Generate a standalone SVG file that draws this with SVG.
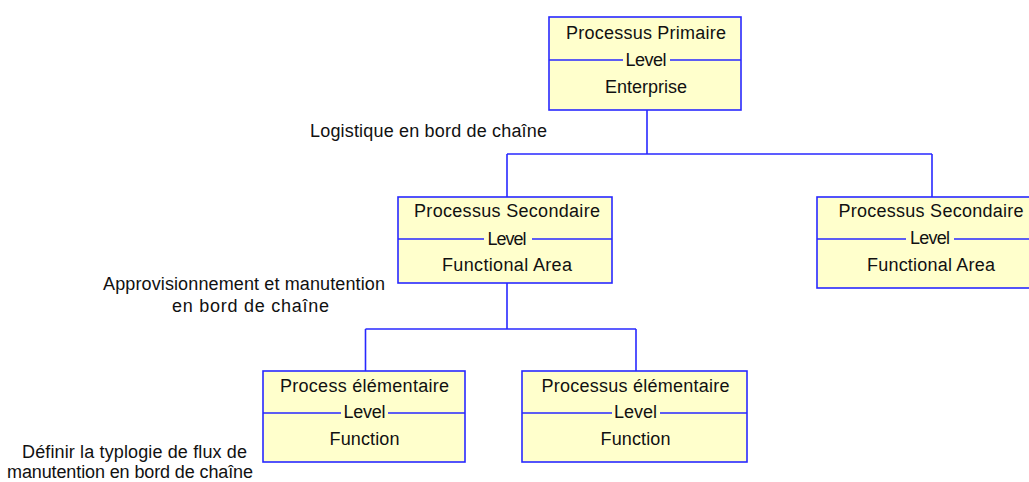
<svg xmlns="http://www.w3.org/2000/svg" width="1029" height="482" viewBox="0 0 1029 482">
<style>
.box{fill:#FFFFCC;stroke:#2828FF;stroke-width:1.6}
.div{stroke:#2828FF;stroke-width:1.4;fill:none}
.con{stroke:#2828FF;stroke-width:1.6;fill:none}
text{font-family:"Liberation Sans",Arial,sans-serif;font-size:18px;fill:#111}
.c{text-anchor:middle}
</style>
<rect width="1029" height="482" fill="#FFFFFF"/>
<g id="connectors">
<path class="con" d="M647 110V154M507 154H932M507 154V197M932 154V197"/>
<path class="con" d="M507 283V329M365.5 329H636M365.5 329V371M636 329V371"/>
</g>
<g id="n-primaire">
<rect class="box" x="549" y="17" width="192" height="93"/>
<path class="div" d="M549 60H623M670 60H741"/>
<text class="c" x="646" y="39" textLength="160" lengthAdjust="spacing">Processus Primaire</text>
<text class="c" x="646" y="66" textLength="41" lengthAdjust="spacing">Level</text>
<text class="c" x="646" y="93" textLength="82" lengthAdjust="spacing">Enterprise</text>
</g>
<g id="n-secondaire-1">
<rect class="box" x="398" y="197" width="214" height="86"/>
<path class="div" d="M398 239H484M532 239H612"/>
<text class="c" x="507" y="217" textLength="186" lengthAdjust="spacing">Processus Secondaire</text>
<text class="c" x="507" y="245" textLength="39" lengthAdjust="spacing">Level</text>
<text class="c" x="507" y="271" textLength="130" lengthAdjust="spacing">Functional Area</text>
</g>
<g id="n-secondaire-2">
<rect class="box" x="817" y="197" width="230" height="91"/>
<path class="div" d="M817 239H906M954 239H1047"/>
<text class="c" x="931" y="217" textLength="185" lengthAdjust="spacing">Processus Secondaire</text>
<text class="c" x="930" y="244" textLength="40" lengthAdjust="spacing">Level</text>
<text class="c" x="931" y="271" textLength="128" lengthAdjust="spacing">Functional Area</text>
</g>
<g id="n-elementaire-1">
<rect class="box" x="263" y="371" width="202" height="91"/>
<path class="div" d="M263 413H341M388 413H465"/>
<text class="c" x="364.5" y="392" textLength="169" lengthAdjust="spacing">Process élémentaire</text>
<text class="c" x="364.5" y="418" textLength="42" lengthAdjust="spacing">Level</text>
<text class="c" x="364.5" y="445" textLength="70" lengthAdjust="spacing">Function</text>
</g>
<g id="n-elementaire-2">
<rect class="box" x="522" y="371" width="225" height="91"/>
<path class="div" d="M522 413H612M660 413H747"/>
<text class="c" x="635.5" y="392" textLength="188" lengthAdjust="spacing">Processus élémentaire</text>
<text class="c" x="635.5" y="418" textLength="43" lengthAdjust="spacing">Level</text>
<text class="c" x="635.5" y="445" textLength="70" lengthAdjust="spacing">Function</text>
</g>
<g id="labels">
<text x="310" y="137" textLength="237" lengthAdjust="spacing">Logistique en bord de chaîne</text>
<text x="103" y="290" textLength="282" lengthAdjust="spacing">Approvisionnement et manutention</text>
<text x="172" y="312" textLength="157" lengthAdjust="spacing">en bord de chaîne</text>
<text x="22" y="458" textLength="225" lengthAdjust="spacing">Définir la typlogie de flux de</text>
<text x="7" y="478" textLength="246" lengthAdjust="spacing">manutention en bord de chaîne</text>
</g>
</svg>
